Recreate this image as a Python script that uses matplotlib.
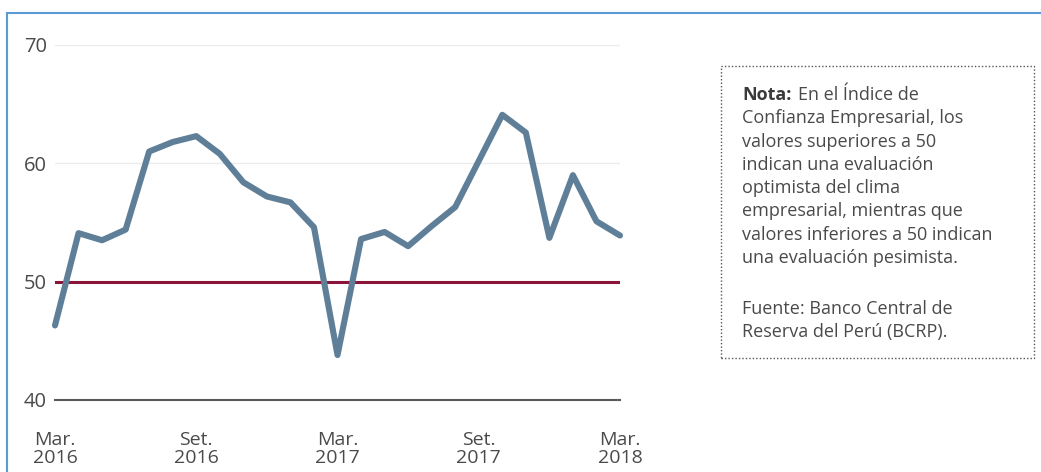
import matplotlib
matplotlib.use("Agg")
import matplotlib.pyplot as plt
from matplotlib.patches import Rectangle

# Data: Indice de Confianza Empresarial, monthly Mar. 2016 - Mar. 2018
values = [46.3, 54.1, 53.5, 54.4, 61.0, 61.8, 62.3, 60.8, 58.4, 57.2, 56.7, 54.6,
          43.8, 53.6, 54.2, 53.0, 54.7, 56.3, 60.2, 64.1, 62.6, 53.7, 59.0, 55.1, 53.9]
tick_pos = [0, 6, 12, 18, 24]
tick_labels = ['Mar.\n2016', 'Set.\n2016', 'Mar.\n2017', 'Set.\n2017', 'Mar.\n2018']
y_ticks = [40, 50, 60, 70]
threshold = 50

note_lines = [
    'Confianza Empresarial, los',
    'valores superiores a 50',
    'indican una evaluación',
    'optimista del clima',
    'empresarial, mientras que',
    'valores inferiores a 50 indican',
    'una evaluación pesimista.',
]
source_lines = ['Fuente: Banco Central de', 'Reserva del Perú (BCRP).']

plt.rcParams['font.family'] = ['Open Sans', 'DejaVu Sans']
text_color = '#4a4a4a'

W, H = 1041, 472
fig = plt.figure(figsize=(W / 100, H / 100), dpi=100)
ax = fig.add_axes([55 / W, 1 - 400 / H, 565 / W, 355 / H])

x = list(range(len(values)))

# light gridlines and base line
for yv in [60, 70]:
    ax.axhline(yv, color='#ececec', lw=1, zorder=1)
ax.axhline(40, color='#5a5a5a', lw=1.5, zorder=1, clip_on=False)
ax.axhline(threshold, color='#8a1538', lw=2.2, zorder=2)

ax.plot(x, values, color='#5f7f98', lw=4.4, solid_capstyle='round',
        solid_joinstyle='round', zorder=3, clip_on=False)

ax.set_xlim(0, 24)
ax.set_ylim(40, 70)
ax.set_yticks(y_ticks)
ax.set_yticklabels([str(v) for v in y_ticks], fontsize=14.5, color=text_color)
ax.set_xticks(tick_pos)
ax.set_xticklabels(tick_labels, fontsize=14, color=text_color, linespacing=1.0)
ax.tick_params(axis='y', length=0, pad=6)
ax.tick_params(axis='x', length=0, pad=22)
for s in ax.spines.values():
    s.set_visible(False)
ax.set_facecolor('none')

# blue frame (open to the right and bottom)
fig.add_artist(Rectangle((7 / W, -0.5), 2, 0.5 + (1 - 13 / H), transform=fig.transFigure,
                         fill=False, edgecolor='#5b9bd5', lw=1.5))

# dotted note box
bx0, bx1 = 721 / W, 1034 / W
by0, by1 = 1 - 358 / H, 1 - 66 / H
fig.add_artist(Rectangle((bx0, by0), bx1 - bx0, by1 - by0, transform=fig.transFigure,
                         fill=False, edgecolor='#555555', lw=1.0, linestyle=(0, (1, 1.5))))

tx = 742 / W
base = 100
step = 23.3
fsize = 13
nota = fig.text(tx, 1 - base / H, 'Nota:', fontsize=fsize, fontweight='bold',
                color='#3a3a3a', va='baseline')
renderer = fig.canvas.get_renderer()
bb = nota.get_window_extent(renderer)
fig.text(bb.x1 / W + 7 / W, 1 - base / H, 'En el Índice de', fontsize=fsize,
         color=text_color, va='baseline')
for i, line in enumerate(note_lines):
    fig.text(tx, 1 - (base + step * (i + 1)) / H, line, fontsize=fsize,
             color=text_color, va='baseline')
for i, line in enumerate(source_lines):
    fig.text(tx, 1 - (314 + step * i) / H, line, fontsize=fsize,
             color=text_color, va='baseline')

fig.savefig('out.png', dpi=100, facecolor='white')
